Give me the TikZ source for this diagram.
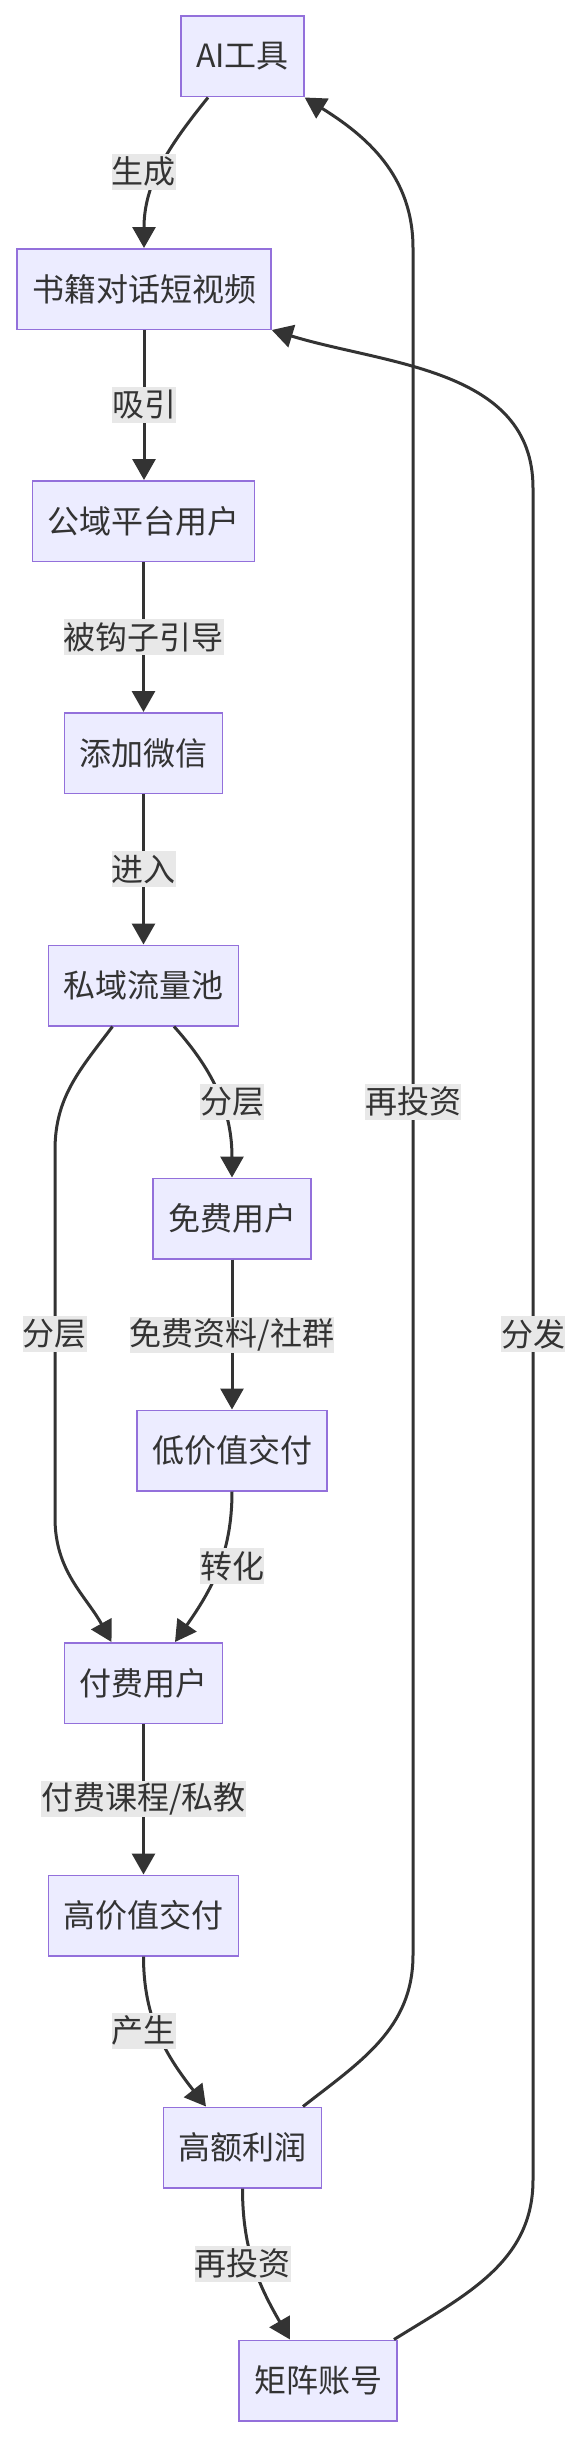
\documentclass[tikz,border=0pt]{standalone}
\usepackage{fontspec}
\newfontfamily\cjk{Noto Sans CJK SC}
\usetikzlibrary{arrows.meta,calc}
\definecolor{nodefill}{HTML}{ECECFF}
\definecolor{nodeline}{HTML}{9370DB}
\definecolor{edgegray}{HTML}{333333}
\definecolor{lblbg}{HTML}{E8E8E8}

\begin{document}
\begin{tikzpicture}[x=1pt,y=1pt,
  box/.style={draw=nodeline,fill=nodefill,line width=1.5pt,inner xsep=15pt,inner ysep=0pt,minimum height=80.5pt,text=edgegray,font=\cjk\fontsize{32}{38}\selectfont},
  lbl/.style={fill=lblbg,inner sep=0pt,minimum height=36pt,text=edgegray,font=\cjk\fontsize{32}{38}\selectfont},
  arr/.style={draw=edgegray,line width=3pt,-{Triangle[width=23pt,length=21pt]}}]
  \useasboundingbox (0,0) rectangle (580,-2438);
  \node[box] (ai) at (242.5,-56.5) {AI工具};
  \node[box] (book) at (144,-289) {书籍对话短视频};
  \node[box] (pub) at (143.5,-521) {公域平台用户};
  \node[box] (wx) at (143.5,-753) {添加微信};
  \node[box] (pool) at (143.5,-985.5) {私域流量池};
  \node[box] (free) at (232,-1218.5) {免费用户};
  \node[box] (low) at (232,-1450.5) {低价值交付};
  \node[box] (paid) at (143.5,-1683) {付费用户};
  \node[box] (high) at (143.5,-1915.5) {高价值交付};
  \node[box] (profit) at (242.5,-2147.5) {高额利润};
  \node[box] (mat) at (318,-2380.5) {矩阵账号};
  \draw[arr] ($(ai.south)+(-34.5,0)$) to[out=-129,in=90] (book.south |- book.north);
  \draw[arr] (book.south) -- node[lbl] (l2) {吸引} (book.south |- pub.north);
  \draw[arr] (pub.south) -- node[lbl] (l3) {被钩子引导} (wx.north);
  \draw[arr] (wx.south) -- node[lbl] (l4) {进入} (pool.north);
  \draw[arr] ($(pool.south)+(30.5,0)$) to[out=-48,in=90] (free.north);
  \draw[arr] ($(pool.south)+(-31,0)$) to[out=-127,in=90] (55,-1150) -- node[lbl] (l6) {分层} (55,-1518) to[out=-90,in=119] ($(paid.north)+(-32,0)$);
  \draw[arr] (free.south) -- node[lbl] (l7) {免费资料/社群} (low.north);
  \draw[arr] (low.south) to[out=-90,in=55] ($(paid.north)+(31.5,0)$);
  \draw[arr] (paid.south) -- node[lbl] (l9) {付费课程/私教} (high.north);
  \draw[arr] (high.south) to[out=-90,in=128] ($(profit.north)+(-36.5,0)$);
  \draw[arr] (profit.south) to[out=-90,in=120] ($(mat.north)+(-28,0)$);
  \draw[arr] ($(profit.north)+(60.5,0)$) to[out=38,in=-90] (413,-1955) -- node[lbl] (l12) {再投资} (413,-248) to[out=90,in=-32] (ai.south east);
  \draw[arr] ($(mat.north)+(76,0)$) to[out=32,in=-90] (533,-2180) -- node[lbl] (l13) {分发} (533,-488) to[out=90,in=-17] (book.south east);
  \node[lbl] (l1) at (143.5,-171.5) {生成};
  \node[lbl] (l5) at (232,-1101.5) {分层};
  \node[lbl] (l8) at (232,-1566) {转化};
  \node[lbl] (l10) at (143.5,-2030.5) {产生};
  \node[lbl] (l11) at (242.5,-2263.5) {再投资};
  % \node[lbl] at (414,-1101.5) {再投资};
\end{tikzpicture}
\end{document}
